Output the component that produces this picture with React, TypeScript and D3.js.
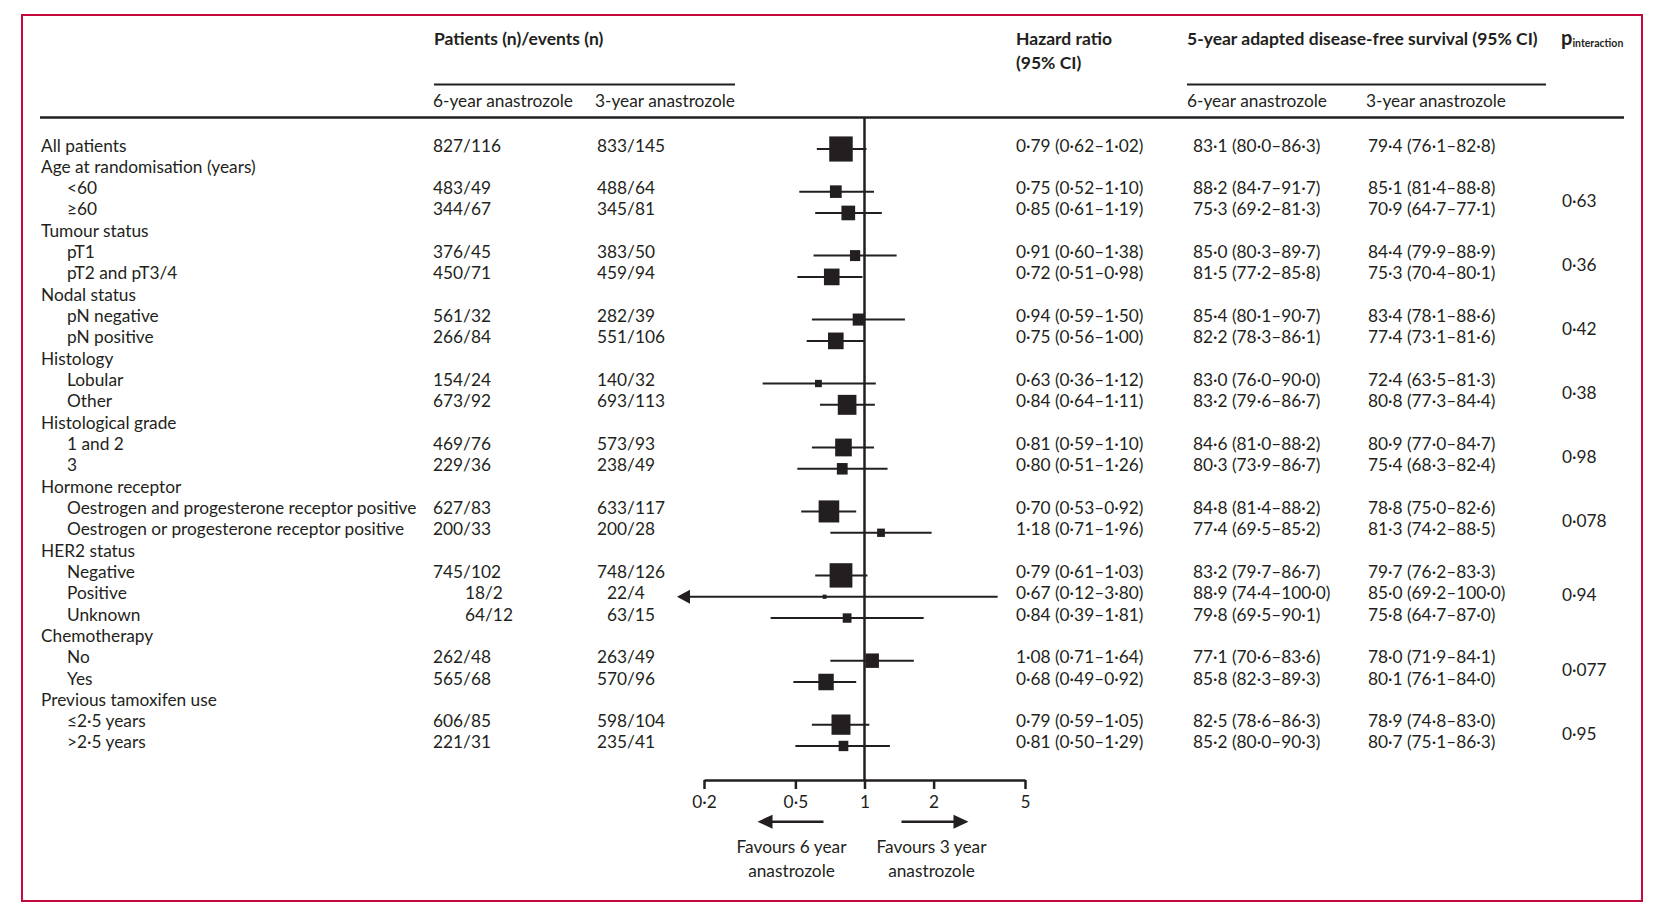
import React, { useRef, useEffect } from 'react';
import * as d3 from 'd3';

// ---- data ----
const rowLabels = [
  'All patients',
  'Age at randomisation (years)', '<60', '≥60',
  'Tumour status', 'pT1', 'pT2 and pT3/4',
  'Nodal status', 'pN negative', 'pN positive',
  'Histology', 'Lobular', 'Other',
  'Histological grade', '1 and 2', '3',
  'Hormone receptor', 'Oestrogen and progesterone receptor positive', 'Oestrogen or progesterone receptor positive',
  'HER2 status', 'Negative', 'Positive', 'Unknown',
  'Chemotherapy', 'No', 'Yes',
  'Previous tamoxifen use', '≤2·5 years', '>2·5 years',
];
// 0 = top level, 1 = subgroup
const rowLevel = [0, 0, 1, 1, 0, 1, 1, 0, 1, 1, 0, 1, 1, 0, 1, 1, 0, 1, 1, 0, 1, 1, 1, 0, 1, 1, 0, 1, 1];

const patients6 = [827, null, 483, 344, null, 376, 450, null, 561, 266, null, 154, 673, null, 469, 229, null, 627, 200, null, 745, 18, 64, null, 262, 565, null, 606, 221];
const events6 = [116, null, 49, 67, null, 45, 71, null, 32, 84, null, 24, 92, null, 76, 36, null, 83, 33, null, 102, 2, 12, null, 48, 68, null, 85, 31];
const patients3 = [833, null, 488, 345, null, 383, 459, null, 282, 551, null, 140, 693, null, 573, 238, null, 633, 200, null, 748, 22, 63, null, 263, 570, null, 598, 235];
const events3 = [145, null, 64, 81, null, 50, 94, null, 39, 106, null, 32, 113, null, 93, 49, null, 117, 28, null, 126, 4, 15, null, 49, 96, null, 104, 41];

const hr = [0.79, null, 0.75, 0.85, null, 0.91, 0.72, null, 0.94, 0.75, null, 0.63, 0.84, null, 0.81, 0.80, null, 0.70, 1.18, null, 0.79, 0.67, 0.84, null, 1.08, 0.68, null, 0.79, 0.81];
const hrLow = [0.62, null, 0.52, 0.61, null, 0.60, 0.51, null, 0.59, 0.56, null, 0.36, 0.64, null, 0.59, 0.51, null, 0.53, 0.71, null, 0.61, 0.12, 0.39, null, 0.71, 0.49, null, 0.59, 0.50];
const hrHigh = [1.02, null, 1.10, 1.19, null, 1.38, 0.98, null, 1.50, 1.00, null, 1.12, 1.11, null, 1.10, 1.26, null, 0.92, 1.96, null, 1.03, 3.80, 1.81, null, 1.64, 0.92, null, 1.05, 1.29];
// relative weight (All patients = 100)
const boxWeight = [100, null, 25, 34, null, 19, 44, null, 23, 44, null, 8.5, 63, null, 50, 21, null, 77, 11, null, 94, 2.8, 14, null, 33, 43, null, 65, 17];

const dfs6 = [
  [83.1, 80.0, 86.3], null, [88.2, 84.7, 91.7], [75.3, 69.2, 81.3], null, [85.0, 80.3, 89.7], [81.5, 77.2, 85.8],
  null, [85.4, 80.1, 90.7], [82.2, 78.3, 86.1], null, [83.0, 76.0, 90.0], [83.2, 79.6, 86.7],
  null, [84.6, 81.0, 88.2], [80.3, 73.9, 86.7], null, [84.8, 81.4, 88.2], [77.4, 69.5, 85.2],
  null, [83.2, 79.7, 86.7], [88.9, 74.4, 100.0], [79.8, 69.5, 90.1], null, [77.1, 70.6, 83.6], [85.8, 82.3, 89.3],
  null, [82.5, 78.6, 86.3], [85.2, 80.0, 90.3],
];
const dfs3 = [
  [79.4, 76.1, 82.8], null, [85.1, 81.4, 88.8], [70.9, 64.7, 77.1], null, [84.4, 79.9, 88.9], [75.3, 70.4, 80.1],
  null, [83.4, 78.1, 88.6], [77.4, 73.1, 81.6], null, [72.4, 63.5, 81.3], [80.8, 77.3, 84.4],
  null, [80.9, 77.0, 84.7], [75.4, 68.3, 82.4], null, [78.8, 75.0, 82.6], [81.3, 74.2, 88.5],
  null, [79.7, 76.2, 83.3], [85.0, 69.2, 100.0], [75.8, 64.7, 87.0], null, [78.0, 71.9, 84.1], [80.1, 76.1, 84.0],
  null, [78.9, 74.8, 83.0], [80.7, 75.1, 86.3],
];

// p for interaction, given on the group heading row
const pInteraction = [null, '0·63', null, null, '0·36', null, null, '0·42', null, null, '0·38', null, null,
  '0·98', null, null, '0·078', null, null, '0·94', null, null, null, '0·077', null, null, '0·95', null, null];

const axisTicks = [0.2, 0.5, 1, 2, 5];

// ---- layout ----
const W = 1670;
const H = 922;
const INK = '#231f20';
const FONT = "Lato, 'Open Sans', sans-serif";
const FS = 17.3;

const App: React.FC = () => {
  const svgRef = useRef<SVGSVGElement>(null);

  useEffect(() => {
    if (!svgRef.current) return;
    const svg = d3.select(svgRef.current);
    svg.selectAll('*').remove();

    const dot = (s: string) => s.replace(/\./g, '·');
    const f2 = d3.format('.2f');
    const f1 = d3.format('.1f');

    const row0 = 151.5;
    const step = 21.32;
    const baseY = (i: number) => row0 + i * step;

    const x = d3.scaleLog().domain([0.2, 5]).range([704, 1025]);
    const size = d3.scaleSqrt().domain([0, 100]).range([0, 23.5]);

    // frame
    svg.append('rect')
      .attr('x', 22).attr('y', 15).attr('width', 1620).attr('height', 886)
      .attr('fill', 'none').attr('stroke', '#c20a3c').attr('stroke-width', 2);

    const g = svg.append('g').style('font-family', FONT).style('fill', INK);

    // headers
    const bold = (t: string, xx: number, yy: number) =>
      g.append('text').attr('x', xx).attr('y', yy).style('font-size', `${FS + 0.2}px`).style('font-weight', 700).text(t);
    const plain = (t: string, xx: number, yy: number) =>
      g.append('text').attr('x', xx).attr('y', yy).style('font-size', `${FS}px`).text(t);

    bold('Patients (n)/events (n)', 434, 45);
    bold('Hazard ratio', 1016, 45);
    bold('(95% CI)', 1016, 69);
    bold('5-year adapted disease-free survival (95% CI)', 1187, 45);
    const pt = g.append('text').attr('x', 1561).attr('y', 45).style('font-weight', 700);
    pt.append('tspan').style('font-size', '20px').text('p');
    pt.append('tspan').style('font-size', '10.5px').attr('dy', 2).text('interaction');

    plain('6-year anastrozole', 433, 106.5);
    plain('3-year anastrozole', 595, 106.5);
    plain('6-year anastrozole', 1187, 106.5);
    plain('3-year anastrozole', 1366, 106.5);

    const rule = (x1: number, x2: number, y: number, w: number) =>
      svg.append('line').attr('x1', x1).attr('x2', x2).attr('y1', y).attr('y2', y)
        .attr('stroke', INK).attr('stroke-width', w);
    rule(434, 735, 84.5, 2);
    rule(1187, 1546, 84.5, 2);
    rule(40, 1624, 117.5, 2.5);

    // rows
    rowLabels.forEach((label, i) => {
      const y = baseY(i);
      plain(label, rowLevel[i] === 0 ? 41 : 67, y);
      if (patients6[i] != null) {
        const p6 = patients6[i] as number;
        const p3 = patients3[i] as number;
        plain(`${p6}/${events6[i]}`, 433 + (p6 < 100 ? 32 : 0), y);
        plain(`${p3}/${events3[i]}`, 597 + (p3 < 100 ? 10 : 0), y);
        plain(dot(`${f2(hr[i] as number)} (${f2(hrLow[i] as number)}–${f2(hrHigh[i] as number)})`), 1016, y);
        const a = dfs6[i] as number[];
        const b = dfs3[i] as number[];
        plain(dot(`${f1(a[0])} (${f1(a[1])}–${f1(a[2])})`), 1193, y);
        plain(dot(`${f1(b[0])} (${f1(b[1])}–${f1(b[2])})`), 1368, y);
      }
      if (pInteraction[i]) {
        // centre on the subgroup rows that follow the heading
        let j = i + 1;
        while (j < rowLabels.length && rowLevel[j] === 1) j++;
        const mid = (baseY(i + 1) + baseY(j - 1)) / 2 + 2;
        plain(pInteraction[i] as string, 1562, mid);
      }
    });

    // forest plot
    const forest = svg.append('g');
    const yTop = 117.5;
    const yAxis = 780;

    forest.append('line')
      .attr('x1', x(1)).attr('x2', x(1)).attr('y1', yTop).attr('y2', yAxis)
      .attr('stroke', INK).attr('stroke-width', 2.5);

    rowLabels.forEach((_, i) => {
      if (hr[i] == null) return;
      const cy = baseY(i) - 2.5;
      const lo = hrLow[i] as number;
      const hi = hrHigh[i] as number;
      const clipped = lo < x.domain()[0];
      const xLo = clipped ? x(x.domain()[0]) - 14 : x(lo);
      forest.append('line')
        .attr('x1', xLo).attr('x2', x(hi)).attr('y1', cy).attr('y2', cy)
        .attr('stroke', INK).attr('stroke-width', 2);
      if (clipped) {
        const bx = x(x.domain()[0]) - 14;
        forest.append('path')
          .attr('d', `M${bx},${cy - 7}L${bx - 13},${cy}L${bx},${cy + 7}Z`)
          .attr('fill', INK);
      }
      const s = size(boxWeight[i] as number);
      const h = s * 1.07;
      forest.append('rect')
        .attr('x', x(hr[i] as number) - s / 2).attr('y', cy - h / 2)
        .attr('width', s).attr('height', h).attr('fill', INK);
    });

    // axis
    const axis = d3.axisBottom(x)
      .tickValues(axisTicks)
      .tickSize(9)
      .tickSizeOuter(0)
      .tickPadding(7)
      .tickFormat(d => dot(String(d)));
    const ax = svg.append('g').attr('transform', `translate(0,${yAxis})`).call(axis);
    ax.select('.domain').attr('stroke', INK).attr('stroke-width', 2.5);
    ax.selectAll('.tick line').attr('stroke', INK).attr('stroke-width', 2.5);
    ax.selectAll('.tick text')
      .attr('fill', INK)
      .style('font-family', FONT)
      .style('font-size', `${FS}px`);

    // favours arrows
    const ay = 821.7;
    const arrow = (tail: number, tip: number) => {
      const dir = Math.sign(tip - tail);
      forest.append('line')
        .attr('x1', tail).attr('x2', tip - dir * 12).attr('y1', ay).attr('y2', ay)
        .attr('stroke', INK).attr('stroke-width', 2.5);
      forest.append('path')
        .attr('d', `M${tip - dir * 15},${ay - 7}L${tip},${ay}L${tip - dir * 15},${ay + 7}Z`)
        .attr('fill', INK);
    };
    arrow(x(1) - 41, x(1) - 107);
    arrow(x(1) + 37, x(1) + 104);

    const centred = (t: string, xx: number, yy: number) =>
      g.append('text').attr('x', xx).attr('y', yy).attr('text-anchor', 'middle')
        .style('font-size', `${FS}px`).text(t);
    centred('Favours 6 year', x(1) - 73, 853);
    centred('anastrozole', x(1) - 73, 876.5);
    centred('Favours 3 year', x(1) + 67, 853);
    centred('anastrozole', x(1) + 67, 876.5);
  }, []);

  return (
    <svg
      ref={svgRef}
      width={W}
      height={H}
      style={{ position: 'absolute', left: 0, top: 0, background: '#fff' }}
    />
  );
};

export default App;
